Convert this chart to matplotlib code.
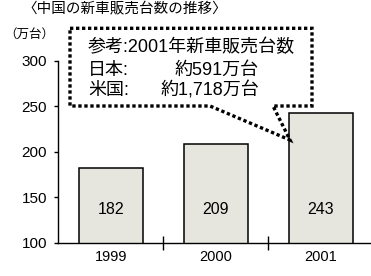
import numpy as np
import matplotlib
matplotlib.use("Agg")
import matplotlib.pyplot as plt
from matplotlib.patches import Polygon

plt.rcParams['font.family'] = ['Liberation Sans', 'Noto Sans CJK JP', 'DejaVu Sans']

# data
years = ['1999', '2000', '2001']
sales = [182, 209, 243]          # 万台
y_ticks = [100, 150, 200, 250, 300]

title = '〈中国の新車販売台数の推移〉'
unit = '（万台）'
note_head = '参考:2001年新車販売台数'
note_rows = [('日本:', '約591万台'), ('米国:', '約1,718万台')]

W, H = 371, 276
fig = plt.figure(figsize=(W / 100, H / 100), dpi=100)
fig.patch.set_facecolor('white')

# axes placed by pixel
left, right, top, bottom = 58.3, 371, 60.7, 243
ax = fig.add_axes([left / W, 1 - bottom / H, (right - left) / W, (bottom - top) / H])

x = np.arange(len(years))
bars = ax.bar(x, sales, width=0.61, color='#e6e6df', edgecolor='black', linewidth=1.1, zorder=2)
for xi, v in zip(x, sales):
    ax.text(xi, 137, str(v), ha='center', va='center', fontsize=11.5)

ax.set_ylim(100, 300)
ax.set_xlim(-0.5, (right - left) / 105 - 0.5)
ax.set_yticks(y_ticks)
ax.tick_params(axis='y', direction='out', length=3, width=1, labelsize=11, pad=5)

# x ticks sit between categories, labels under the bars
ax.set_xticks([0.5, 1.5])
ax.set_xticklabels([])
ax.tick_params(axis='x', direction='inout', length=10, width=1)
ax.set_xticks(x, minor=True)
ax.set_xticklabels(years, minor=True, fontsize=10.5)
ax.tick_params(axis='x', which='minor', length=0, pad=5)

for s in ['top', 'right']:
    ax.spines[s].set_visible(False)
ax.spines['left'].set_linewidth(1)
ax.spines['bottom'].set_linewidth(1)

# dotted callout box pointing to 2001 bar
def px2d(px, py):
    return ((px - left) / 105 - 0.5, 100 + (bottom - py) / ((bottom - top) / 200))

pts = [px2d(70, 28.3), px2d(312, 28.3), px2d(312, 106), px2d(273, 106),
       px2d(290, 140), px2d(210, 106), px2d(70, 106)]
callout = Polygon(pts, closed=True, fill=False, edgecolor='black', linewidth=2.4,
                  linestyle=(0, (1, 0.8)), clip_on=False, zorder=3)
ax.add_patch(callout)

fig.text(88 / W, 1 - 47 / H, note_head, fontsize=13, va='center', ha='left')
for i, (name, val) in enumerate(note_rows):
    yy = 1 - (70 + 20 * i) / H
    fig.text(88 / W, yy, name, fontsize=13, va='center', ha='left')
    fig.text(259 / W, yy, val, fontsize=13, va='center', ha='right')

fig.text(22 / W, 1 - 9 / H, title, fontsize=10.5, va='center', ha='left')
fig.text(4 / W, 1 - 35 / H, unit, fontsize=9, va='center', ha='left')

fig.savefig('out.png', dpi=100)
